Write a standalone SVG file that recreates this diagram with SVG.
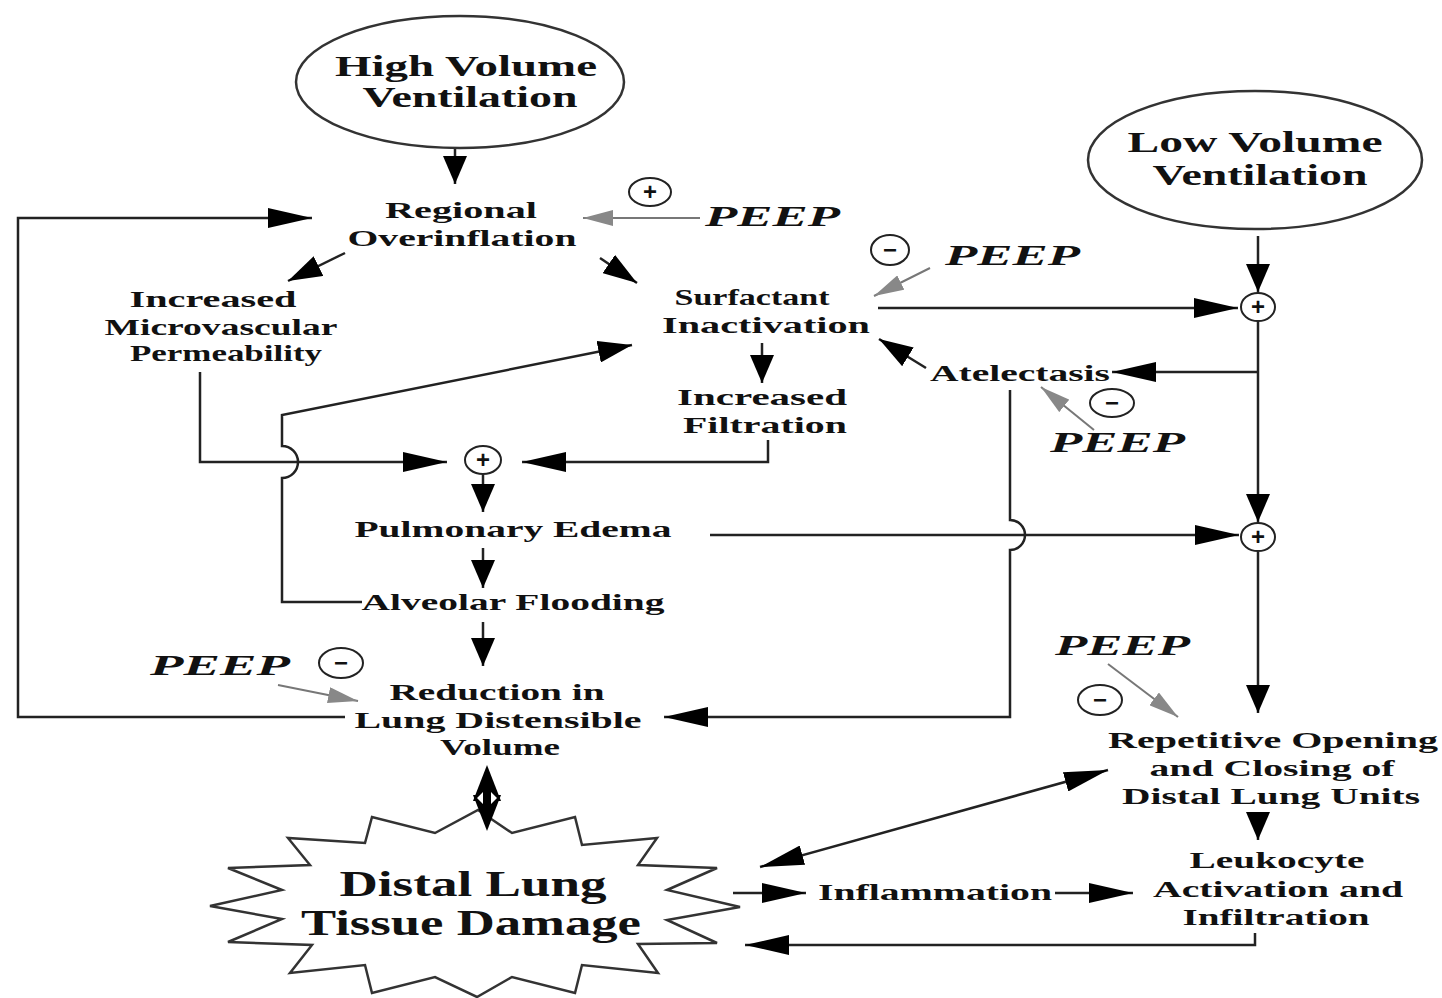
<svg xmlns="http://www.w3.org/2000/svg" width="1442" height="998" viewBox="0 0 1442 998">
<style>
  .t { font-family: "Liberation Serif", "Times New Roman", serif; font-weight: bold; font-size: 23px; fill: #111; text-anchor: middle; }
  .big { font-size: 29px; }
  .huge { font-size: 35px; }
  .peep { font-family: "Liberation Serif", "Times New Roman", serif; font-weight: bold; font-style: italic; font-size: 30px; fill: #111; }
  .sym { font-family: "Liberation Sans", Arial, sans-serif; font-weight: bold; font-size: 24px; fill: #111; text-anchor: middle; }
  .shape { fill: none; stroke: #333; stroke-width: 2.5; }
  .op { fill: #fff; stroke: #222; stroke-width: 2; }
  .c { fill: none; stroke: #222; stroke-width: 2.5; }
  .g { fill: none; stroke: #777; stroke-width: 2; }
</style>
<defs>
  <marker id="ah" markerUnits="userSpaceOnUse" viewBox="0 0 44 20" refX="44" refY="10" markerWidth="44" markerHeight="20" orient="auto-start-reverse">
    <path d="M0,0 L44,10 L0,20 z" fill="#000"/>
  </marker>
  <marker id="av" markerUnits="userSpaceOnUse" viewBox="0 0 28 24" refX="28" refY="12" markerWidth="28" markerHeight="24" orient="auto">
    <path d="M0,0 L28,12 L0,24 z" fill="#000"/>
  </marker>
  <marker id="ad" markerUnits="userSpaceOnUse" viewBox="0 0 34 22" refX="34" refY="11" markerWidth="34" markerHeight="22" orient="auto-start-reverse">
    <path d="M0,0 L34,11 L0,22 z" fill="#000"/>
  </marker>
  <marker id="ag" markerUnits="userSpaceOnUse" viewBox="0 0 30 16" refX="30" refY="8" markerWidth="30" markerHeight="16" orient="auto">
    <path d="M0,0 L30,8 L0,16 z" fill="#888"/>
  </marker>
</defs>

<rect width="1442" height="998" fill="#fff"/>

<!-- connectors -->
<g id="connectors">
  <line class="c" x1="455" y1="148" x2="455" y2="184" marker-end="url(#av)"/>
  <path class="c" d="M345,717 H18 V218 H312" marker-end="url(#ah)"/>
  <line class="c" x1="345" y1="253" x2="288" y2="281" marker-end="url(#ad)"/>
  <line class="c" x1="600" y1="258" x2="637" y2="283" marker-end="url(#ad)"/>
  <line class="c" x1="878" y1="308" x2="1238" y2="308" marker-end="url(#ah)"/>
  <line class="c" x1="1258" y1="236" x2="1258" y2="292" marker-end="url(#av)"/>
  <line class="c" x1="1258" y1="321" x2="1258" y2="522" marker-end="url(#av)"/>
  <line class="c" x1="1258" y1="372" x2="1112" y2="372" marker-end="url(#ah)"/>
  <line class="c" x1="926" y1="368" x2="879" y2="339" marker-end="url(#ad)"/>
  <line class="c" x1="762" y1="343" x2="762" y2="383" marker-end="url(#av)"/>
  <path class="c" d="M768,440 V462 H522" marker-end="url(#ah)"/>
  <path class="c" d="M200,372 V462 H447" marker-end="url(#ah)"/>
  <path class="c" d="M362,602 H282 V478 A16,16 0 0 0 282,446 V415 L632,345" marker-end="url(#ad)"/>
  <line class="c" x1="483" y1="475" x2="483" y2="512" marker-end="url(#av)"/>
  <line class="c" x1="710" y1="535" x2="1239" y2="535" marker-end="url(#ah)"/>
  <path class="c" d="M1010,390 V520 A15,15 0 0 1 1010,550 V717 H664" marker-end="url(#ah)"/>
  <line class="c" x1="483" y1="548" x2="483" y2="588" marker-end="url(#av)"/>
  <line class="c" x1="483" y1="622" x2="483" y2="666" marker-end="url(#av)"/>
  <line class="c" x1="1258" y1="552" x2="1258" y2="713" marker-end="url(#av)"/>
  <line class="c" x1="1108" y1="770" x2="760" y2="867" marker-start="url(#ah)" marker-end="url(#ah)"/>
  <line class="c" x1="1258" y1="812" x2="1258" y2="840" marker-end="url(#av)"/>
  <line class="c" x1="733" y1="893" x2="806" y2="893" marker-end="url(#ah)"/>
  <line class="c" x1="1055" y1="893" x2="1133" y2="893" marker-end="url(#ah)"/>
  <path class="c" d="M1255,933 V945 H745" marker-end="url(#ah)"/>
  <!-- PEEP influences -->
  <line class="g" x1="700" y1="218" x2="583" y2="218" marker-end="url(#ag)"/>
  <line class="g" x1="930" y1="268" x2="874" y2="296" marker-end="url(#ag)"/>
  <line class="g" x1="1094" y1="430" x2="1041" y2="387" marker-end="url(#ag)"/>
  <line class="g" x1="278" y1="685" x2="358" y2="701" marker-end="url(#ag)"/>
  <line class="g" x1="1108" y1="664" x2="1178" y2="717" marker-end="url(#ag)"/>
</g>

<!-- nodes -->
<g id="high-volume">
  <ellipse class="shape" cx="460" cy="82" rx="164" ry="66"/>
  <text class="t big" x="466" y="76" textLength="262" lengthAdjust="spacingAndGlyphs">High Volume</text>
  <text class="t big" x="470" y="107" textLength="215" lengthAdjust="spacingAndGlyphs">Ventilation</text>
</g>
<g id="regional-overinflation">
  <text class="t" x="461" y="218" textLength="152" lengthAdjust="spacingAndGlyphs">Regional</text>
  <text class="t" x="462" y="246" textLength="229" lengthAdjust="spacingAndGlyphs">Overinflation</text>
</g>
<g id="peep-plus-top">
  <ellipse class="op" cx="650" cy="192" rx="21" ry="14"/>
  <text class="sym" x="650" y="200">+</text>
  <text class="peep" x="705" y="226" textLength="135" lengthAdjust="spacingAndGlyphs">PEEP</text>
</g>
<g id="microvascular">
  <text class="t" x="213" y="307" textLength="167" lengthAdjust="spacingAndGlyphs">Increased</text>
  <text class="t" x="221" y="335" textLength="233" lengthAdjust="spacingAndGlyphs">Microvascular</text>
  <text class="t" x="226" y="361" textLength="192" lengthAdjust="spacingAndGlyphs">Permeability</text>
</g>
<g id="surfactant">
  <text class="t" x="752" y="305" textLength="155" lengthAdjust="spacingAndGlyphs">Surfactant</text>
  <text class="t" x="766" y="333" textLength="208" lengthAdjust="spacingAndGlyphs">Inactivation</text>
</g>
<g id="peep-minus-surfactant">
  <ellipse class="op" cx="890" cy="250" rx="19" ry="15"/>
  <text class="sym" x="890" y="258">−</text>
  <text class="peep" x="945" y="265" textLength="135" lengthAdjust="spacingAndGlyphs">PEEP</text>
</g>
<g id="low-volume">
  <ellipse class="shape" cx="1255" cy="160" rx="167" ry="69"/>
  <text class="t big" x="1255" y="152" textLength="255" lengthAdjust="spacingAndGlyphs">Low Volume</text>
  <text class="t big" x="1260" y="185" textLength="215" lengthAdjust="spacingAndGlyphs">Ventilation</text>
</g>
<g id="sum-upper">
  <ellipse class="op" cx="1258" cy="307" rx="17" ry="14"/>
  <text class="sym" x="1258" y="315">+</text>
</g>
<g id="atelectasis">
  <text class="t" x="1020" y="381" textLength="180" lengthAdjust="spacingAndGlyphs">Atelectasis</text>
</g>
<g id="peep-minus-atelectasis">
  <ellipse class="op" cx="1112" cy="403" rx="22" ry="14"/>
  <text class="sym" x="1112" y="411">−</text>
  <text class="peep" x="1050" y="452" textLength="135" lengthAdjust="spacingAndGlyphs">PEEP</text>
</g>
<g id="filtration">
  <text class="t" x="762" y="405" textLength="170" lengthAdjust="spacingAndGlyphs">Increased</text>
  <text class="t" x="765" y="433" textLength="164" lengthAdjust="spacingAndGlyphs">Filtration</text>
</g>
<g id="sum-edema">
  <ellipse class="op" cx="483" cy="460" rx="18" ry="14"/>
  <text class="sym" x="483" y="468">+</text>
</g>
<g id="pulmonary-edema">
  <text class="t" x="513" y="537" textLength="317" lengthAdjust="spacingAndGlyphs">Pulmonary Edema</text>
</g>
<g id="sum-lower">
  <ellipse class="op" cx="1258" cy="537" rx="17" ry="14"/>
  <text class="sym" x="1258" y="545">+</text>
</g>
<g id="alveolar-flooding">
  <text class="t" x="513" y="610" textLength="303" lengthAdjust="spacingAndGlyphs">Alveolar Flooding</text>
</g>
<g id="peep-minus-volume">
  <text class="peep" x="150" y="675" textLength="140" lengthAdjust="spacingAndGlyphs">PEEP</text>
  <ellipse class="op" cx="341" cy="663" rx="22" ry="15"/>
  <text class="sym" x="341" y="671">−</text>
</g>
<g id="reduction-volume">
  <text class="t" x="497" y="700" textLength="215" lengthAdjust="spacingAndGlyphs">Reduction in</text>
  <text class="t" x="498" y="728" textLength="287" lengthAdjust="spacingAndGlyphs">Lung Distensible</text>
  <text class="t" x="500" y="755" textLength="120" lengthAdjust="spacingAndGlyphs">Volume</text>
</g>
<g id="peep-minus-repetitive">
  <text class="peep" x="1055" y="655" textLength="135" lengthAdjust="spacingAndGlyphs">PEEP</text>
  <ellipse class="op" cx="1100" cy="700" rx="22" ry="15"/>
  <text class="sym" x="1100" y="708">−</text>
</g>
<g id="repetitive-opening">
  <text class="t" x="1273" y="748" textLength="330" lengthAdjust="spacingAndGlyphs">Repetitive Opening</text>
  <text class="t" x="1272" y="776" textLength="245" lengthAdjust="spacingAndGlyphs">and Closing of</text>
  <text class="t" x="1271" y="804" textLength="298" lengthAdjust="spacingAndGlyphs">Distal Lung Units</text>
</g>
<g id="tissue-damage">
  <path class="shape" d="M478,810 L512,833 L575,817 L582,845 L657,838 L638,865 L717,868 L667,890 L740,907 L667,920 L717,943 L638,944 L658,973 L582,965 L575,993 L512,977 L477,997 L435,977 L372,993 L365,965 L290,973 L312,945 L228,942 L282,919 L210,906 L282,890 L228,868 L310,865 L288,838 L365,843 L372,817 L435,833 Z"/>
  <text class="t huge" x="473" y="896" textLength="267" lengthAdjust="spacingAndGlyphs">Distal Lung</text>
  <text class="t huge" x="471" y="935" textLength="340" lengthAdjust="spacingAndGlyphs">Tissue Damage</text>
</g>
<g id="tissue-link">
  <!-- two-way link between lung volume and tissue damage -->
  <line x1="487" y1="780" x2="487" y2="815" stroke="#000" stroke-width="4"/>
  <path d="M487,765 L501,801 L473,801 z" fill="#000"/>
  <path d="M487,831 L501,795 L473,795 z" fill="#000"/>
  <path d="M477,798 L483,792 L483,804 z M497,798 L491,792 L491,804 z" fill="#fff"/>
</g>
<g id="inflammation">
  <text class="t" x="935" y="900" textLength="234" lengthAdjust="spacingAndGlyphs">Inflammation</text>
</g>
<g id="leukocyte">
  <text class="t" x="1277" y="868" textLength="175" lengthAdjust="spacingAndGlyphs">Leukocyte</text>
  <text class="t" x="1278" y="897" textLength="250" lengthAdjust="spacingAndGlyphs">Activation and</text>
  <text class="t" x="1276" y="925" textLength="187" lengthAdjust="spacingAndGlyphs">Infiltration</text>
</g>
</svg>
